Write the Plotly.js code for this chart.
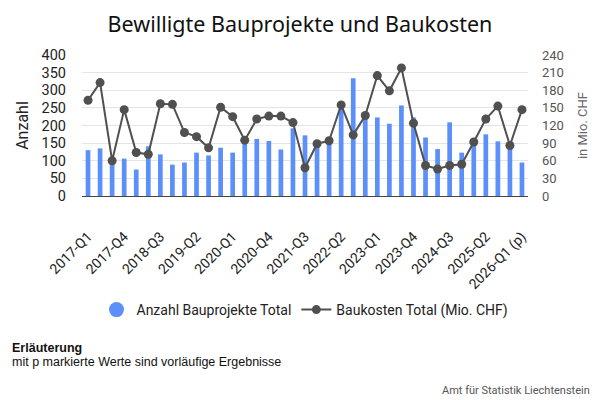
<!DOCTYPE html>
<html>
<head>
<meta charset="utf-8">
<script src="https://cdn.plot.ly/plotly-3.0.1.min.js"></script>
<style>
  html, body { margin: 0; padding: 0; background: #fff; }
  #chart { width: 600px; height: 400px; }
</style>
</head>
<body>
<div id="chart"></div>
<script>
// Quartale 2017-Q1 .. 2026-Q1 (p)
const quartale = [
  '2017-Q1','2017-Q2','2017-Q3','2017-Q4',
  '2018-Q1','2018-Q2','2018-Q3','2018-Q4',
  '2019-Q1','2019-Q2','2019-Q3','2019-Q4',
  '2020-Q1','2020-Q2','2020-Q3','2020-Q4',
  '2021-Q1','2021-Q2','2021-Q3','2021-Q4',
  '2022-Q1','2022-Q2','2022-Q3','2022-Q4',
  '2023-Q1','2023-Q2','2023-Q3','2023-Q4',
  '2024-Q1','2024-Q2','2024-Q3','2024-Q4',
  '2025-Q1','2025-Q2','2025-Q3','2025-Q4',
  '2026-Q1 (p)'
];

// Anzahl Bauprojekte (linke Achse)
const anzahl = [
  130, 135, 103, 106,
  75, 141, 118, 89,
  95, 123, 115, 137,
  123, 155, 162, 156,
  132, 192, 172, 140,
  152, 250, 334, 225,
  223, 205, 257, 223,
  166, 133, 209, 123,
  145, 175, 155, 143,
  95
];

// Baukosten in Mio. CHF (rechte Achse)
const baukosten = [
  163, 193, 60, 147,
  74, 71, 157, 156,
  108, 101, 82, 151,
  135, 95, 131, 136,
  136, 125, 48, 89,
  94, 155, 104, 137,
  205, 179, 218, 124,
  52, 46, 52, 54,
  92, 131, 153, 86,
  147
];

const tickQuartale = quartale.filter((q, i) => i % 3 == 0);

const blau = '#5b8ff9';
const grau = '#505050';

let data = [
  {
    type: 'bar', x: quartale, y: anzahl,
    marker: { color: blau }, width: 0.39,
    name: 'Anzahl Bauprojekte Total', showlegend: false,
    hovertemplate: '%{x}: %{y}<extra></extra>'
  },
  {
    // nur für die Legende (runder Punkt wie im Original)
    type: 'scatter', mode: 'markers', x: [quartale[0]], y: [null],
    marker: { color: blau, size: 15, symbol: 'circle' },
    name: 'Anzahl Bauprojekte Total', hoverinfo: 'skip'
  },
  {
    type: 'scatter', mode: 'lines+markers', x: quartale, y: baukosten,
    yaxis: 'y2',
    line: { color: grau, width: 2 },
    marker: { color: grau, size: 9 },
    name: 'Baukosten Total (Mio. CHF)',
    hovertemplate: '%{x}: %{y}<extra></extra>'
  }
];

// Umrechnung Pixel -> paper-Koordinaten (Plotfläche 82..528 x 55..196)
const px = (p) => (p - 82) / 446;
const py = (p) => (196 - p) / 141;

let layout = {
  width: 600, height: 400,
  paper_bgcolor: '#fff', plot_bgcolor: '#fff',
  font: { family: 'Roboto, Liberation Sans, sans-serif', color: '#222' },
  title: {
    text: 'Bewilligte Bauprojekte und Baukosten',
    font: { family: 'Noto Sans, Lato, sans-serif', size: 21.5, color: '#111' },
    x: 0.5, xanchor: 'center', y: 0.94, yanchor: 'middle'
  },
  margin: { l: 82, r: 72, t: 55, b: 204, pad: 0 },
  xaxis: {
    type: 'category', range: [-0.5, quartale.length - 0.5],
    tickmode: 'array', tickvals: tickQuartale, ticktext: tickQuartale,
    tickangle: -45, tickfont: { size: 14, color: '#222' }, ticklabelstandoff: 26,
    showgrid: false, showline: true, linecolor: '#444', linewidth: 1,
    ticks: '', automargin: false
  },
  yaxis: {
    range: [0, 400], tickvals: [0, 50, 100, 150, 200, 250, 300, 350, 400],
    tickfont: { size: 14.5, color: '#222' }, ticklabelstandoff: 15,
    gridcolor: '#e4e4e4', zeroline: false, showline: false,
    title: { text: 'Anzahl', font: { size: 16, color: '#222' }, standoff: 8 },
    automargin: false
  },
  yaxis2: {
    overlaying: 'y', side: 'right',
    range: [0, 240], tickvals: [0, 30, 60, 90, 120, 150, 180, 210, 240],
    tickfont: { size: 13, color: '#555' }, ticklabelstandoff: 13,
    showgrid: false, zeroline: false, showline: false,
    title: { text: 'in Mio. CHF', font: { size: 13, color: '#666' }, standoff: 14 },
    automargin: false
  },
  legend: {
    orientation: 'h', x: 0.5, xanchor: 'center', xref: 'paper',
    y: 0.225, yref: 'container', yanchor: 'middle',
    font: { size: 14, color: '#222' }, itemwidth: 30
  },
  annotations: [
    {
      text: '<b>Erläuterung</b>', xref: 'paper', yref: 'paper',
      x: px(9.6), y: py(348),
      xanchor: 'left', yanchor: 'middle', showarrow: false,
      font: { family: 'Liberation Sans, Arial, sans-serif', size: 12.5, color: '#111' }
    },
    {
      text: 'mit p markierte Werte sind vorläufige Ergebnisse',
      xref: 'paper', yref: 'paper', x: px(9.6), y: py(362),
      xanchor: 'left', yanchor: 'middle', showarrow: false,
      font: { family: 'Liberation Sans, Arial, sans-serif', size: 12.5, color: '#111' }
    },
    {
      text: 'Amt für Statistik Liechtenstein',
      xref: 'paper', yref: 'paper', x: px(592), y: py(390),
      xanchor: 'right', yanchor: 'middle', showarrow: false,
      font: { family: 'Roboto, Liberation Sans, sans-serif', size: 11, color: '#555' }
    }
  ]
};

Plotly.newPlot('chart', data, layout, { displayModeBar: false, staticPlot: true });
</script>
</body>
</html>
